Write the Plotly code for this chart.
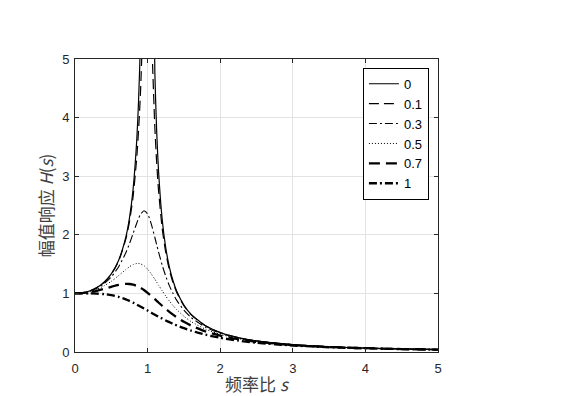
import plotly.graph_objects as go

s = [0, 0.1, 0.2, 0.3, 0.4, 0.5, 0.6, 0.7, 0.75, 0.8, 0.85, 0.875, 0.9, 0.95, 1.0,
     1.05, 1.1, 1.125, 1.15, 1.2, 1.25, 1.3, 1.35, 1.4, 1.5, 1.6, 1.8, 2.0, 2.25,
     2.5, 3.0, 3.5, 4.0, 4.5, 5.0]

h_0 = [1.0, 1.0101, 1.0417, 1.0989, 1.1905, 1.3333, 1.5625, 1.9608, 2.2857, 2.7778,
       3.6036, 4.2667, 5.2632, 10.256, None, 9.756, 4.762, 3.765, 3.101, 2.273,
       1.778, 1.449, 1.216, 1.042, 0.8, 0.641, 0.446, 0.3333, 0.2462, 0.1905,
       0.125, 0.0889, 0.0667, 0.0519, 0.0417]
h_01 = [1.0, 1.0100, 1.0412, 1.0977, 1.1878, 1.3274, 1.5489, 1.9249, 2.2213, 2.6500,
        3.3067, 3.7730, 4.3727, 6.024, 7.071, 5.542, 3.8264, 3.2297, 2.7686, 2.1205,
        1.6960, 1.4004, 1.1843, 1.0202, 0.7887, 0.6344, 0.4436, 0.3319, 0.2454,
        0.1900, 0.1248, 0.0888, 0.0666, 0.0519, 0.0416]
h_03 = [1.0, 1.0092, 1.0376, 1.0883, 1.1669, 1.2830, 1.4519, 1.6944, 1.8485, 2.0211,
        2.1976, 2.2778, 2.3447, 2.4115, 2.3570, 2.1876, 1.9540, 1.8307, 1.7098, 1.4861,
        1.2935, 1.1321, 0.9977, 0.8858, 0.7129, 0.5878, 0.4225, 0.3208, 0.2396,
        0.1867, 0.1234, 0.0881, 0.0662, 0.0517, 0.0415]
h_05 = [1.0, 1.0075, 1.0305, 1.0702, 1.1282, 1.2060, 1.3023, 1.4071, 1.4545, 1.4914,
        1.5106, 1.5114, 1.5057, 1.4732, 1.4142, 1.3342, 1.2412, 1.1924, 1.1431, 1.0462,
        0.9545, 0.8700, 0.7936, 0.7252, 0.6100, 0.5189, 0.3881, 0.3015, 0.2292,
        0.1805, 0.1208, 0.0868, 0.0655, 0.0513, 0.0412]
h_07 = [1.0, 1.0051, 1.0202, 1.0447, 1.0768, 1.1128, 1.1453, 1.1622, 1.1604, 1.1495,
        1.1286, 1.1144, 1.0977, 1.0576, 1.0102, 0.9574, 0.9017, 0.8734, 0.8451, 0.7894,
        0.7357, 0.6848, 0.6372, 0.5931, 0.5152, 0.4498, 0.3494, 0.2782, 0.2158,
        0.1723, 0.1172, 0.0850, 0.0645, 0.0506, 0.0408]
h_1 = [1.0, 0.99995, 0.9992, 0.9960, 0.9874, 0.9701, 0.9409, 0.8980, 0.8716, 0.8423,
       0.8106, 0.7940, 0.7771, 0.7424, 0.7071, 0.6718, 0.6370, 0.6200, 0.6031, 0.5704,
       0.5391, 0.5092, 0.4810, 0.4545, 0.4061, 0.3639, 0.2949, 0.2425, 0.1938,
       0.1580, 0.1104, 0.0814, 0.0624, 0.0493, 0.0400]

names = ["0", "0.1", "0.3", "0.5", "0.7", "1"]
series = [h_0, h_01, h_03, h_05, h_07, h_1]
dashes = ["solid", "10px,5px", "8px,3px,2px,3px", "1px,2px", "11px,6px", "8px,3px,2px,3px"]
widths = [1.2, 1.2, 1.1, 1.0, 2.3, 2.3]

fig = go.Figure()
for i, (n, y) in enumerate(zip(names, series)):
    fig.add_trace(go.Scatter(
        x=s, y=y, name=n, mode="lines", legendgroup=n,
        line=dict(color="black", width=widths[i], dash=dashes[i], shape="spline", smoothing=0.6),
        connectgaps=False,
    ))

axis_common = dict(
    range=[0, 5], tickvals=[0, 1, 2, 3, 4, 5], ticks="inside", ticklen=4,
    tickcolor="#262626", showline=True, linecolor="#262626", linewidth=1,
    mirror="ticks", showgrid=True, gridcolor="#e3e3e3", gridwidth=1,
    zeroline=False, automargin=False,
    tickfont=dict(family="Liberation Sans, Arial", size=13, color="#262626"),
)

fig.update_layout(
    width=583, height=396,
    margin=dict(l=75, r=145, t=59, b=44),
    paper_bgcolor="white", plot_bgcolor="white",
    xaxis=dict(**axis_common, ticklabelstandoff=4,
               title=dict(text="频率比 <i>s</i>", standoff=6,
                          font=dict(family="Noto Sans CJK SC, Liberation Sans", size=17, color="#404040"))),
    yaxis=dict(**axis_common, ticklabelstandoff=2,
               title=dict(text="幅值响应 <i>H</i>(<i>s</i>)", standoff=4,
                          font=dict(family="Noto Sans CJK SC, Liberation Sans", size=17, color="#404040"))),
    legend=dict(
        x=0.975, y=0.97, xanchor="right", yanchor="top",
        bgcolor="white", bordercolor="black", borderwidth=1,
        font=dict(family="Liberation Sans, Arial", size=13, color="black"),
        tracegroupgap=0, itemwidth=30,
    ),
    showlegend=True,
)

fig.write_html("out.html")
